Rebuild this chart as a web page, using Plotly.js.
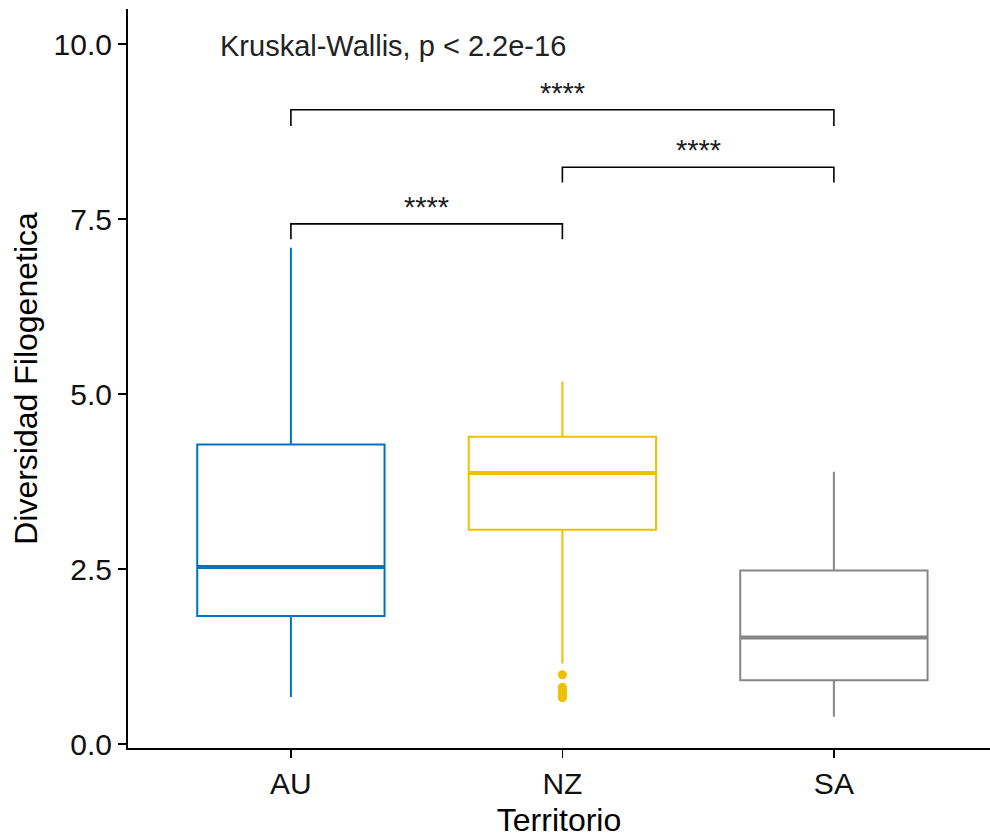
<!DOCTYPE html>
<html>
<head>
<meta charset="utf-8">
<script src="https://cdn.plot.ly/plotly-3.0.1.min.js"></script>
<style>html,body{margin:0;padding:0;background:#fff;}#chart{width:990px;height:840px;}</style>
</head>
<body>
<div id="chart"></div>
<script>
// ---- data ----
var categories = ['AU', 'NZ', 'SA'];
var boxColors = ['#0073C2', '#EFC000', '#868686'];
var q1Values = [1.83, 3.06, 0.91];
var medianValues = [2.53, 3.87, 1.52];
var q3Values = [4.28, 4.39, 2.48];
var lowerFence = [0.67, 1.15, 0.39];
var upperFence = [7.09, 5.18, 3.89];
var outlierCategory = ['NZ', 'NZ', 'NZ', 'NZ', 'NZ', 'NZ', 'NZ'];
var outlierValues = [0.99, 0.81, 0.77, 0.74, 0.71, 0.68, 0.66];
// pairwise comparisons
var compGroup1 = ['AU', 'NZ', 'AU'];
var compGroup2 = ['NZ', 'SA', 'SA'];
var compY = [7.43, 8.24, 9.06];
var compTip = [7.21, 8.02, 8.83];
var compLabel = ['****', '****', '****'];
var testLabel = 'Kruskal-Wallis, p < 2.2e-16';
var testLabelX = -0.27;   // category-axis position (AU = 0)
var testLabelY = 9.97;

var FONT = 'Liberation Sans, Arial, sans-serif';
var traces = [];
for (var i = 0; i < categories.length; i++) {
  traces.push({
    type: 'box', x: [categories[i]],
    q1: [q1Values[i]], median: [medianValues[i]], q3: [q3Values[i]],
    lowerfence: [lowerFence[i]], upperfence: [upperFence[i]],
    boxpoints: false, width: 0.69, whiskerwidth: 0,
    line: {color: boxColors[i], width: 2}, fillcolor: 'rgba(255,255,255,0)',
    showlegend: false, hoverinfo: 'skip'
  });
  // thicker median line: degenerate box at the median
  traces.push({
    type: 'box', x: [categories[i]],
    q1: [medianValues[i]], median: [medianValues[i]], q3: [medianValues[i]],
    lowerfence: [medianValues[i]], upperfence: [medianValues[i]],
    boxpoints: false, width: 0.69, whiskerwidth: 0,
    line: {color: boxColors[i], width: 4}, fillcolor: 'rgba(255,255,255,0)',
    showlegend: false, hoverinfo: 'skip'
  });
}
traces.push({
  type: 'scatter', mode: 'markers', x: outlierCategory, y: outlierValues,
  marker: {color: boxColors[1], size: 9}, showlegend: false, hoverinfo: 'skip'
});
var annotations = [];
for (var j = 0; j < compGroup1.length; j++) {
  traces.push({
    type: 'scatter', mode: 'lines',
    x: [compGroup1[j], compGroup1[j], compGroup2[j], compGroup2[j]],
    y: [compTip[j], compY[j], compY[j], compTip[j]],
    line: {color: '#000', width: 1.6}, showlegend: false, hoverinfo: 'skip'
  });
  var c1 = categories.indexOf(compGroup1[j]), c2 = categories.indexOf(compGroup2[j]);
  annotations.push({
    x: (c1 + c2) / 2, y: compY[j], xref: 'x', yref: 'y',
    text: compLabel[j], showarrow: false, xanchor: 'center', yanchor: 'bottom',
    yshift: -1, font: {family: FONT, size: 29, color: '#222'}
  });
}
annotations.push({
  x: testLabelX, y: testLabelY, xref: 'x', yref: 'y', text: testLabel,
  showarrow: false, xanchor: 'left', yanchor: 'middle',
  font: {family: FONT, size: 29, color: '#222'}
});

var layout = {
  width: 990, height: 840,
  margin: {l: 128, r: 0, t: 9, b: 92},
  paper_bgcolor: '#fff', plot_bgcolor: '#fff',
  boxmode: 'overlay',
  font: {family: FONT, color: '#000'},
  xaxis: {
    type: 'category', categoryorder: 'array', categoryarray: categories,
    range: [-0.6, 2.575], showgrid: false, zeroline: false,
    showline: true, linecolor: '#000', linewidth: 2,
    ticks: 'outside', ticklen: 8, tickwidth: 1.6, tickcolor: '#000',
    tickfont: {family: FONT, size: 30, color: '#111'},
    title: {text: 'Territorio', font: {family: FONT, size: 32, color: '#000'}, standoff: 10}
  },
  yaxis: {
    range: [-0.057, 10.5], tickvals: [0, 2.5, 5, 7.5, 10], tickformat: '.1f',
    showgrid: false, zeroline: false,
    showline: true, linecolor: '#000', linewidth: 2,
    ticks: 'outside', ticklen: 8, tickwidth: 1.6, tickcolor: '#000',
    tickfont: {family: FONT, size: 30, color: '#111'},
    title: {text: 'Diversidad Filogenetica', font: {family: FONT, size: 32, color: '#000'}, standoff: 6}
  },
  annotations: annotations
};
Plotly.newPlot('chart', traces, layout, {displayModeBar: false, staticPlot: true});
</script>
</body>
</html>
